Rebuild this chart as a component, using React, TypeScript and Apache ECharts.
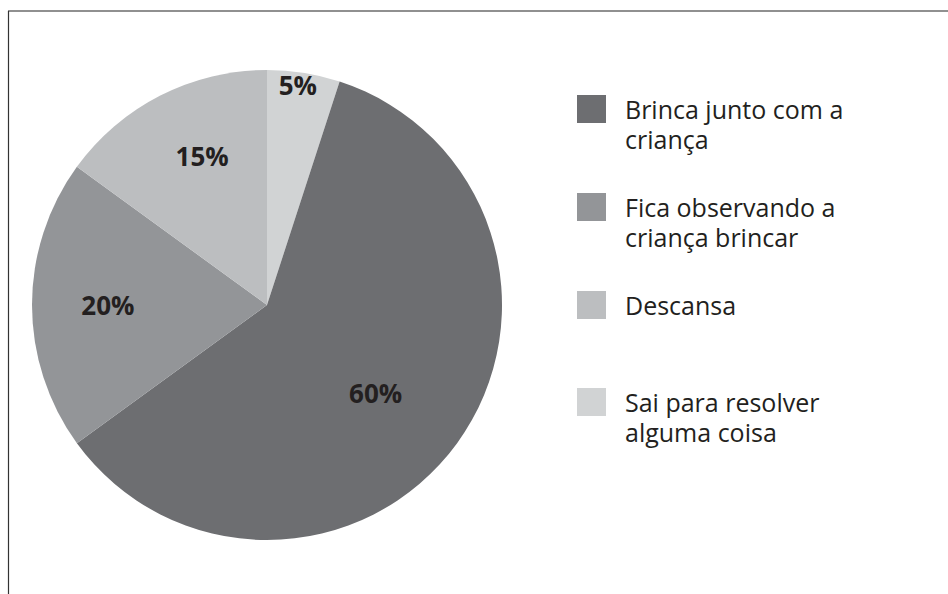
import React, { useEffect, useRef } from "react";
import * as echarts from "echarts";

// Data (clockwise from 12 o'clock)
const categories = [
  "Sai para resolver\nalguma coisa",
  "Brinca junto com a\ncriança",
  "Fica observando a\ncriança brincar",
  "Descansa",
];
const values = [5, 60, 20, 15];
const sliceColors = ["#d1d3d4", "#6d6e71", "#939598", "#bcbec0"];
// legend order as shown
const legendOrder = [1, 2, 3, 0];
const legendIconTops = [95, 193, 291, 388];
// label placement styles: radial fraction of radius, angular shift (deg, clockwise)
const labelRadius = [0.92, 0.58, 0.66, 0.675];
const labelAngleShift = [-1, 3, 0, 3.5];

const CX = 267;
const CY = 305;
const R = 235;
const FONT = "'Open Sans', 'Noto Sans', sans-serif";

export default function App() {
  const ref = useRef<HTMLDivElement>(null);
  useEffect(() => {
    if (!ref.current) return;
    const chart = echarts.init(ref.current, null, { renderer: "svg" });
    const legends = legendOrder.map((idx, i) => {
      const name = categories[idx];
      const twoLine = name.indexOf("\n") >= 0;
      return {
        orient: "vertical",
        left: 577,
        top: twoLine ? legendIconTops[i] - 31 : legendIconTops[i] - 1,
        padding: 0,
        icon: "rect",
        itemWidth: 29,
        itemHeight: 28,
        selectedMode: false,
        data: [name],
        formatter: (n: string) => (n.indexOf("\n") >= 0 ? "\n" + n : n),
        textStyle: {
          fontFamily: FONT,
          fontSize: 25,
          lineHeight: 30,
          color: "#231f20",
          padding: [0, 0, 0, 14],
        },
      };
    });
    chart.setOption({
      animation: false,
      backgroundColor: "#ffffff",
      legend: legends,
      graphic: [
        {
          type: "line",
          shape: { x1: 8, y1: 11, x2: 948, y2: 11 },
          style: { stroke: "#6b6b6b", lineWidth: 1.6 },
          silent: true,
        },
        {
          type: "line",
          shape: { x1: 8.5, y1: 11, x2: 8.5, y2: 594 },
          style: { stroke: "#333333", lineWidth: 1.2 },
          silent: true,
        },
      ],
      series: [
        {
          type: "pie",
          center: [CX, CY],
          radius: R,
          startAngle: 90,
          clockwise: true,
          silent: true,
          data: categories.map((c, i) => ({
            name: c,
            value: values[i],
            itemStyle: { color: sliceColors[i] },
          })),
          label: {
            show: true,
            position: "inside",
            formatter: (p: any) => p.value + "%",
            fontFamily: FONT,
            fontWeight: "bold",
            fontSize: 26,
            color: "#231f20",
          },
          labelLine: { show: false },
          labelLayout: (params: any) => {
            const rect = params.labelRect;
            const lx = rect.x + rect.width / 2;
            const ly = rect.y + rect.height / 2;
            const vx = lx - CX;
            const vy = ly - CY;
            const s = labelRadius[params.dataIndex] / 0.5;
            const th = (labelAngleShift[params.dataIndex] * Math.PI) / 180;
            const nx = (vx * Math.cos(th) - vy * Math.sin(th)) * s;
            const ny = (vx * Math.sin(th) + vy * Math.cos(th)) * s;
            return { dx: nx - vx, dy: ny - vy };
          },
        },
      ],
    });
    return () => chart.dispose();
  }, []);
  return (
    <div
      ref={ref}
      style={{ position: "fixed", left: 0, top: 0, width: 948, height: 594 }}
    />
  );
}
